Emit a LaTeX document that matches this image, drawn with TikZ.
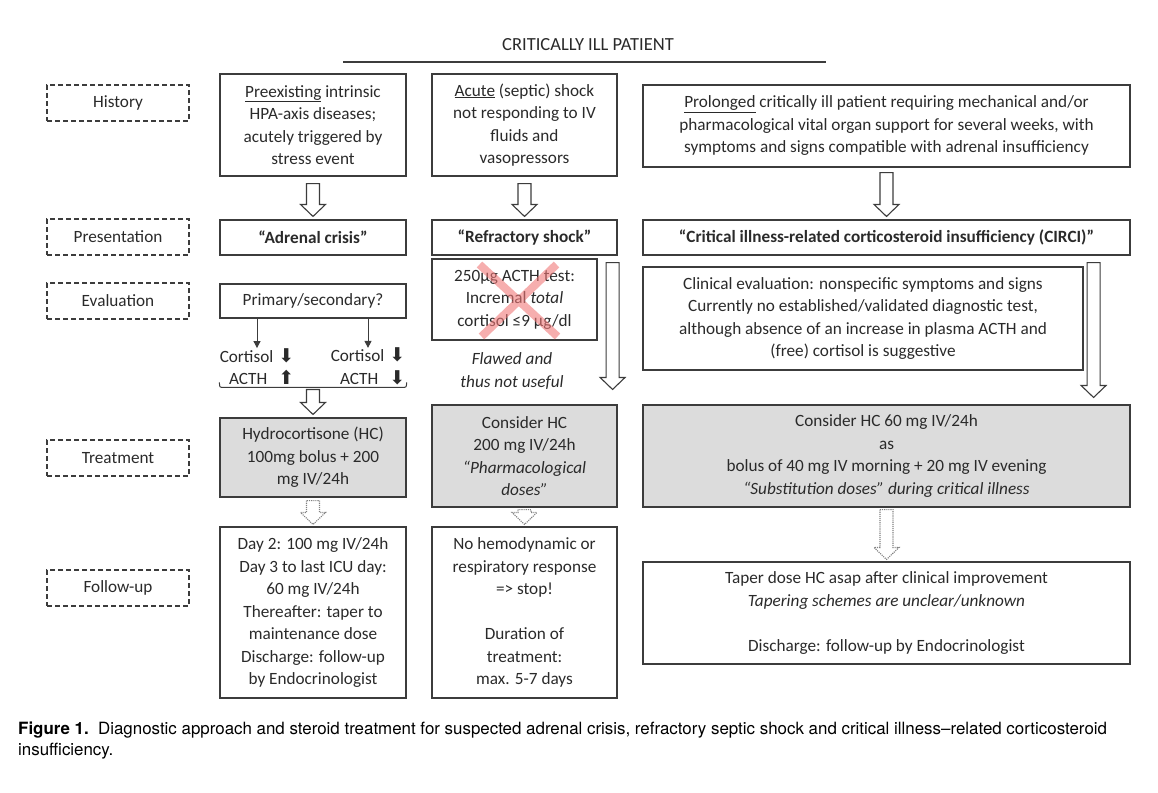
\documentclass[tikz,border=0pt]{standalone}
\usepackage{fontspec}
\setmainfont{Carlito}
\newfontfamily\capfont{TeX Gyre Heros}
\newfontfamily\symfont{DejaVu Sans}
\usetikzlibrary{positioning, calc, arrows.meta}
\definecolor{textgray}{HTML}{2A2A2A}
\definecolor{linegray}{HTML}{3C3C3C}
\definecolor{boxgray}{HTML}{DCDCDC}
\definecolor{crossred}{HTML}{F07878}
\newcommand{\dn}{{\symfont\fontsize{19}{19}\selectfont ⬇}}
\newcommand{\up}{{\symfont\fontsize{19}{19}\selectfont ⬆}}
% hollow block arrow from #2 down to #3
\newcommand{\fatarrow}[3][]{%
  \draw[fat, #1] let \p1=#2, \p2=#3 in
    ({\x1-6.5pt},\y1) -- ({\x1-6.5pt},{\y2+12pt}) -- ({\x1-12.5pt},{\y2+12pt}) -- (\x1,\y2)
    -- ({\x1+12.5pt},{\y2+12pt}) -- ({\x1+6.5pt},{\y2+12pt}) -- ({\x1+6.5pt},\y1) -- cycle;}

\begin{document}
\begin{tikzpicture}[x=1pt, y=-1pt, font=\fontsize{17.2}{22.5}\selectfont, text=textgray,
    box/.style = {draw=linegray, line width=1.1pt, align=center, inner sep=0pt},
    hcbox/.style = {box, fill=boxgray},
    stage/.style = {draw=linegray, line width=1.1pt, dash pattern=on 5pt off 3pt,
                    minimum width=142, minimum height=36, inner sep=0pt},
    fat/.style = {draw=linegray, line width=1.1pt, fill=white, line join=miter},
    dots/.style = {draw=gray, densely dotted, line width=1.1pt},
    thin/.style = {draw=linegray, line width=1pt, -{Triangle[length=7pt, width=7pt]}}]
    \useasboundingbox (0,0) rectangle (1158,792);

    % title
    \node (title) at (588,45) {\fontsize{18.5}{20}\selectfont CRITICALLY ILL PATIENT};
    \draw[linegray, line width=1.1pt] (343,62) -- (826,62);

    % stages on the left
    \node[stage] (history) at (118,103) {History};
    \node[stage] (presentation) at (118,237) {Presentation};
    \node[stage] (evaluation) at (118,301) {Evaluation};
    \node[stage] (treatment) at (118,458) {Treatment};
    \node[stage] (followup) at (118,588) {Follow-up};

    % adrenal crisis
    \node[box, minimum width=186, minimum height=102] (hist1) at (313,125)
        {\underline{Preexisting} intrinsic\\HPA-axis diseases;\\acutely triggered by\\stress event};
    \node[box, minimum width=186, minimum height=35] (pres1) at (313,237.5)
        {\textbf{“Adrenal crisis”}};
    \node[box, minimum width=186, minimum height=34] (eval1) at (313,301)
        {Primary/secondary?};
    \node[align=right, inner sep=0pt] (cortA) at (257,366.5)
        {Cortisol\hspace{5pt}\dn\\ACTH\hspace{11pt}\up};
    \node[align=right, inner sep=0pt] (cortB) at (368,366.5)
        {Cortisol\hspace{5pt}\dn\\ACTH\hspace{11pt}\dn};
    \node[hcbox, minimum width=186, minimum height=79] (treat1) at (313,457.5)
        {Hydrocortisone (HC)\\100mg bolus + 200\\mg IV/24h};
    \node[box, minimum width=186, minimum height=171] (follow1) at (313,612.5)
        {Day 2: 100 mg IV/24h\\Day 3 to last ICU day:\\60 mg IV/24h\\Thereafter: taper to\\maintenance dose\\Discharge: follow-up\\by Endocrinologist};

    % refractory shock
    \node[box, minimum width=185, minimum height=102] (hist2) at (524.5,125)
        {\underline{Acute} (septic) shock\\not responding to IV\\fluids and\\vasopressors};
    \node[box, minimum width=185, minimum height=35] (pres2) at (524.5,237.5)
        {\textbf{“Refractory shock”}};
    \node[box, minimum width=165, minimum height=81] (test2) at (514.5,299.5)
        {250µg ACTH test:\\Incremal \textit{total}\\cortisol ≤9 µg/dl};
    \node[align=center, inner sep=0pt, font=\fontsize{17.2}{22.5}\selectfont\itshape] (flawed) at (512,371)
        {Flawed and\\thus not useful};
    \node[hcbox, minimum width=185, minimum height=102] (treat2) at (524.5,456)
        {Consider HC\\200 mg IV/24h\\\textit{“Pharmacological}\\\textit{doses”}};
    \node[box, minimum width=185, minimum height=171] (follow2) at (524.5,612.5)
        {No hemodynamic or\\respiratory response\\=> stop!\\[22.5pt]Duration of\\treatment:\\max. 5-7 days};

    % CIRCI
    \node[box, minimum width=487, minimum height=82] (hist3) at (886.5,126)
        {\underline{Prolonged} critically ill patient requiring mechanical and/or\\pharmacological vital organ support for several weeks, with\\symptoms and signs compatible with adrenal insufficiency};
    \node[box, minimum width=487, minimum height=35] (pres3) at (886.5,237.5)
        {\textbf{“Critical illness-related corticosteroid insufficiency (CIRCI)”}};
    \node[box, minimum width=440, minimum height=103] (eval3) at (863,318.5)
        {Clinical evaluation: nonspecific symptoms and signs\\Currently no established/validated diagnostic test,\\although absence of an increase in plasma ACTH and\\(free) cortisol is suggestive};
    \node[hcbox, minimum width=487, minimum height=102] (treat3) at (886.5,456)
        {Consider HC 60 mg IV/24h\\as\\bolus of 40 mg IV morning + 20 mg IV evening\\\textit{“Substitution doses” during critical illness}};
    \node[box, minimum width=487, minimum height=102] (follow3) at (886.5,613)
        {Taper dose HC asap after clinical improvement\\\textit{Tapering schemes are unclear/unknown}\\[22.5pt]Discharge: follow-up by Endocrinologist};

    % red cross over the ACTH test
    \draw[crossred, line width=8pt, opacity=.6]
        ($(test2.center)+(-35,-35)$) -- ($(test2.center)+(43,37)$)
        ($(test2.center)+(42,-35)$) -- ($(test2.center)+(-33,37)$);

    % arrows
    \fatarrow{($(hist1.south)+(0,7)$)}{($(pres1.north)+(0,-3)$)}
    \fatarrow{($(hist2.south)+(0,7)$)}{($(pres2.north)+(0,-3)$)}
    \fatarrow{($(hist3.south)+(0,5)$)}{($(pres3.north)+(0,-3)$)}
    \fatarrow{($(test2.east |- pres2.south)+(15,7)$)}{($(test2.east |- treat2.north)+(15,-15)$)}
    \fatarrow{($(eval3.east |- pres3.south)+(10,7)$)}{($(eval3.east |- treat3.north)+(10,-7)$)}
    \draw[thin] (cortA.north |- eval1.south) -- (cortA.north);
    \draw[thin] (cortB.north |- eval1.south) -- (cortB.north);
    \draw[linegray, line width=1pt] ($(treat1.north west)+(0,-35)$) .. controls ($(treat1.north west)+(0,-30)$) .. ($(treat1.north west)+(5,-30)$)
        -- ($(treat1.north east)+(-5,-30)$) .. controls ($(treat1.north east)+(0,-30)$) .. ($(treat1.north east)+(0,-35)$);
    \fatarrow{($(treat1.north)+(0,-28)$)}{($(treat1.north)+(0,-3)$)}
    \fatarrow[dots]{($(treat1.south)+(0,3)$)}{($(follow1.north)+(0,-2)$)}
    \fatarrow[dots]{($(treat2.south)+(0,2)$)}{($(follow2.north)+(0,-2)$)}
    \fatarrow[dots]{($(treat3.south)+(0,2)$)}{($(follow3.north)+(0,-2)$)}

    % caption
    \node[anchor=north west, align=left, inner sep=0pt, text=black,
          font=\capfont\fontsize{16.9}{21}\selectfont] (caption) at (18,722)
        {\textbf{Figure 1.}\ \ Diagnostic approach and steroid treatment for suspected adrenal crisis, refractory septic shock and critical illness–related corticosteroid\\insufficiency.};
\end{tikzpicture}
\end{document}
